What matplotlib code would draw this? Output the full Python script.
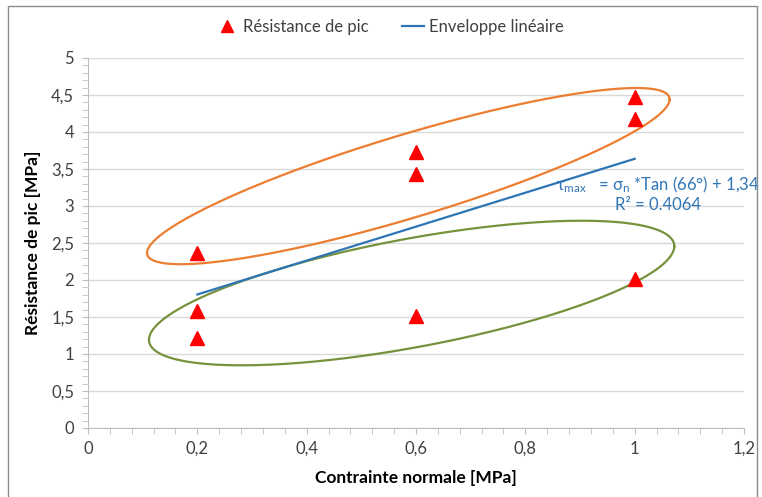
import numpy as np
from matplotlib import pyplot as plt
from matplotlib import patches
from matplotlib.ticker import MultipleLocator, FuncFormatter

# essais de cisaillement : contrainte normale / résistance de pic
normal_stress = [0.2, 0.2, 0.2, 0.6, 0.6, 0.6, 1.0, 1.0, 1.0]
peak_strength = [2.37, 1.58, 1.21, 3.73, 3.43, 1.51, 4.47, 4.18, 2.01]

x_ticks = [0, 0.2, 0.4, 0.6, 0.8, 1.0, 1.2]
y_ticks = [0, 0.5, 1, 1.5, 2, 2.5, 3, 3.5, 4, 4.5, 5]

# ellipses dessinées à la main (centre, demi-diamètres conjugués) en MPa
upper_ellipse = (0.586, 3.404, 0.478, 1.037, 0.585)
lower_ellipse = (0.592, 1.824, 0.4805, 0.632, 0.745)

plt.rcParams['font.family'] = ['Lato', 'DejaVu Sans']
plt.rcParams['mathtext.fontset'] = 'custom'
plt.rcParams['mathtext.rm'] = 'Lato'
plt.rcParams['mathtext.it'] = 'Lato:italic'

BLUE = '#2e75b6'
RED = '#ff0000'
ORANGE = '#ed7d31'
GREEN = '#76923c'
AXIS_GREY = '#bfbfbf'
TEXT = '#404040'


def comma(v, pos):
    """ format decimal with a comma like the french Excel chart"""
    s = ('%.1f' % v).rstrip('0').rstrip('.')
    return s.replace('.', ',')


def ellipse_points(params):
    cx, cy, ux, uy, vy = params
    t = np.linspace(0, 2 * np.pi, 300)
    return cx + ux * np.cos(t), cy + uy * np.cos(t) + vy * np.sin(t)


fig = plt.figure(figsize=(7.62, 4.97), dpi=100)
ax = fig.add_axes([88 / 762, 69 / 497, (744 - 88) / 762, (428 - 58) / 497])

ax.set_xlim(0, 1.2)
ax.set_ylim(0, 5)

# grid + axes
ax.set_yticks(y_ticks)
ax.set_xticks(x_ticks)
ax.yaxis.set_minor_locator(MultipleLocator(0.1))
ax.xaxis.set_minor_locator(MultipleLocator(0.04))
ax.grid(axis='y', color='#d9d9d9', linewidth=1)
ax.set_axisbelow(True)
for side in ['top', 'right']:
    ax.spines[side].set_visible(False)
for side in ['left', 'bottom']:
    ax.spines[side].set_color(AXIS_GREY)
ax.tick_params(which='both', color=AXIS_GREY, length=4, labelsize=12,
               labelcolor=TEXT)
ax.tick_params(axis='x', pad=5)
ax.tick_params(axis='y', pad=6)
ax.xaxis.set_major_formatter(FuncFormatter(comma))
ax.yaxis.set_major_formatter(FuncFormatter(comma))

ax.set_xlabel('Contrainte normale [MPa]', fontsize=12.5, fontweight='bold',
              color='black', labelpad=10)
ax.set_ylabel('Résistance de pic [MPa]', fontsize=12.5, fontweight='bold',
              color='black', labelpad=7)

# linear envelope
slope, intercept = np.polyfit(normal_stress, peak_strength, 1)
xs = np.array([min(normal_stress), max(normal_stress)])
ax.plot(xs, slope * xs + intercept, color=BLUE, linewidth=1.6,
        label='Enveloppe linéaire', zorder=3)

# ellipses
ex, ey = ellipse_points(upper_ellipse)
ax.plot(ex, ey, color=ORANGE, linewidth=1.6, clip_on=False, zorder=2)
ex, ey = ellipse_points(lower_ellipse)
ax.plot(ex, ey, color=GREEN, linewidth=1.6, clip_on=False, zorder=2)

ax.plot(normal_stress, peak_strength, linestyle='none', marker='^',
        markersize=10, color=RED, label='Résistance de pic', zorder=4)

# trend line label
ax.text(1.042, 3.17, r'$\mathregular{\tau_{max}}$   = $\mathregular{\sigma_n}$ *Tan (66°) + 1,34'
        '\nR² = 0.4064', color=BLUE, fontsize=12, ha='center', va='center',
        linespacing=1.15, zorder=5)

handles, labels = ax.get_legend_handles_labels()
leg = fig.legend(handles[::-1], labels[::-1], loc='center', ncol=2,
                 bbox_to_anchor=(0.512, 0.946), frameon=False, fontsize=12,
                 handlelength=1.3, handletextpad=0.3, columnspacing=2.0,
                 markerscale=0.8)
for t in leg.get_texts():
    t.set_color(TEXT)

# chart border
fig.add_artist(patches.Rectangle((8 / 762, -0.1), 749 / 762, 1.1 - 6 / 497,
                                 transform=fig.transFigure, fill=False,
                                 edgecolor='#8c8c8c', linewidth=1))

fig.savefig('out.png', dpi=100)
